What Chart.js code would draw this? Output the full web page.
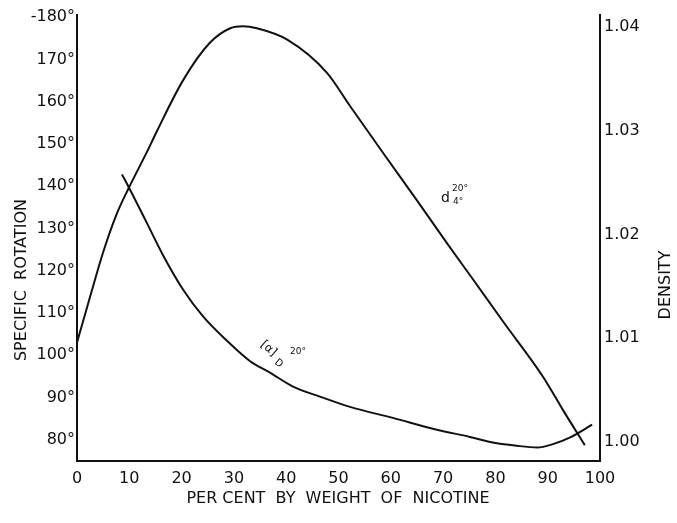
<!DOCTYPE html>
<html>
<head>
<meta charset="utf-8">
<script src="https://cdn.jsdelivr.net/npm/chart.js@4/dist/chart.umd.min.js"></script>
<style>
  html, body { margin: 0; padding: 0; background: #fff; }
  #wrap { width: 677px; height: 523px; }
</style>
</head>
<body>
<div id="wrap"><canvas id="chart" width="677" height="523"></canvas></div>
<script>
// per cent nicotine vs density (d 20/4)
const densityPct = [0, 2.5, 5, 7.6, 9.8, 13.4, 15.3, 20.3, 25.4, 29.3, 31.7, 34.4, 40.2, 47.8, 52.2, 58.5, 65, 70.7, 75.7, 81.5, 89.1, 92.9, 97.1];
const densityVals = [1.0096, 1.0140, 1.0183, 1.0220, 1.0244, 1.0280, 1.0300, 1.0349, 1.0385, 1.0399, 1.0401, 1.0399, 1.0388, 1.0356, 1.0324, 1.0279, 1.0233, 1.0192, 1.0157, 1.0116, 1.0063, 1.0031, 0.9997];

// per cent nicotine vs specific rotation [a]D 20
const rotationPct = [8.6, 9.8, 13.4, 16.4, 20.3, 24.1, 28.7, 33.1, 36.9, 41.3, 47, 52.2, 60.4, 68.8, 75.1, 79, 84.1, 88, 91, 94.3, 98.5];
const rotationVals = [142.8, 140.0, 131.2, 123.8, 115.5, 109.2, 103.4, 98.6, 95.9, 92.6, 90.0, 87.8, 85.2, 82.4, 80.7, 79.5, 78.6, 78.2, 79.0, 80.6, 83.6];

const xTicks = [0, 10, 20, 30, 40, 50, 60, 70, 80, 90, 100];
const rotationTicks = [80, 90, 100, 110, 120, 130, 140, 150, 160, 170, 180];
const densityTicks = [1.00, 1.01, 1.02, 1.03, 1.04];

const FONT = "'DejaVu Sans', sans-serif";
const INK = '#111';

const labelsPlugin = {
  id: 'labels',
  afterDraw(chart) {
    const ctx = chart.ctx;
    ctx.save();
    ctx.fillStyle = INK;
    ctx.textAlign = 'center';
    ctx.textBaseline = 'middle';

    ctx.font = `16px ${FONT}`;
    ctx.save();
    ctx.translate(22, 280);
    ctx.rotate(-Math.PI / 2);
    ctx.fillText('SPECIFIC  ROTATION', 0, 0);
    ctx.restore();

    ctx.save();
    ctx.translate(666, 285);
    ctx.rotate(-Math.PI / 2);
    ctx.fillText('DENSITY', 0, 0);
    ctx.restore();

    ctx.fillText('PER CENT  BY  WEIGHT  OF  NICOTINE', 338, 499);

    // curve labels
    ctx.textAlign = 'left';
    ctx.save();
    ctx.translate(262, 343);
    ctx.rotate(0.7);
    ctx.font = `12px ${FONT}`;
    ctx.fillText('[α]', 0, 0);
    ctx.font = `10px ${FONT}`;
    ctx.fillText('D', 22, 5);
    ctx.restore();
    ctx.font = `9px ${FONT}`;
    ctx.fillText('20°', 290, 352);

    ctx.font = `14px ${FONT}`;
    ctx.fillText('d', 441, 198);
    ctx.font = `9px ${FONT}`;
    ctx.fillText('20°', 452, 189);
    ctx.fillText('4°', 453, 202);
    ctx.restore();
  }
};

new Chart(document.getElementById('chart'), {
  type: 'line',
  data: {
    datasets: [
      {
        label: 'Density',
        data: densityPct.map((p, i) => ({ x: p, y: densityVals[i] })),
        yAxisID: 'yDensity',
        borderColor: INK,
        borderWidth: 2,
        pointRadius: 0,
        cubicInterpolationMode: 'monotone',
        fill: false,
      },
      {
        label: 'Specific rotation',
        data: rotationPct.map((p, i) => ({ x: p, y: rotationVals[i] })),
        yAxisID: 'yRotation',
        borderColor: INK,
        borderWidth: 2,
        pointRadius: 0,
        cubicInterpolationMode: 'monotone',
        fill: false,
      },
    ],
  },
  options: {
    responsive: false,
    animation: false,
    layout: { padding: { top: 15, left: 0, right: 0, bottom: 0 } },
    plugins: {
      legend: { display: false },
      tooltip: { enabled: false },
    },
    scales: {
      x: {
        type: 'linear',
        min: 0,
        max: 100,
        afterBuildTicks: (s) => { s.ticks = xTicks.map((v) => ({ value: v })); },
        afterFit: (s) => { s.height = 62; },
        grid: { display: false, drawTicks: false },
        border: { color: INK, width: 2 },
        ticks: { color: INK, padding: 8, font: { family: FONT, size: 16 }, maxRotation: 0 },
      },
      yRotation: {
        type: 'linear',
        position: 'left',
        min: 75,
        max: 180.5,
        afterBuildTicks: (s) => { s.ticks = rotationTicks.map((v) => ({ value: v })); },
        afterFit: (s) => { s.width = 77; },
        grid: { display: false, drawTicks: false },
        border: { color: INK, width: 2 },
        ticks: {
          color: INK,
          padding: 2,
          font: { family: FONT, size: 16 },
          callback: (v) => (v === 180 ? '-180°' : v + '°'),
        },
      },
      yDensity: {
        type: 'linear',
        position: 'right',
        min: 0.99817,
        max: 1.04118,
        afterBuildTicks: (s) => { s.ticks = densityTicks.map((v) => ({ value: v })); },
        afterFit: (s) => { s.width = 77; },
        grid: { display: false, drawTicks: false },
        border: { color: INK, width: 2 },
        ticks: {
          color: INK,
          padding: 4,
          font: { family: FONT, size: 16 },
          callback: (v) => v.toFixed(2),
        },
      },
    },
  },
  plugins: [labelsPlugin],
});
</script>
</body>
</html>
